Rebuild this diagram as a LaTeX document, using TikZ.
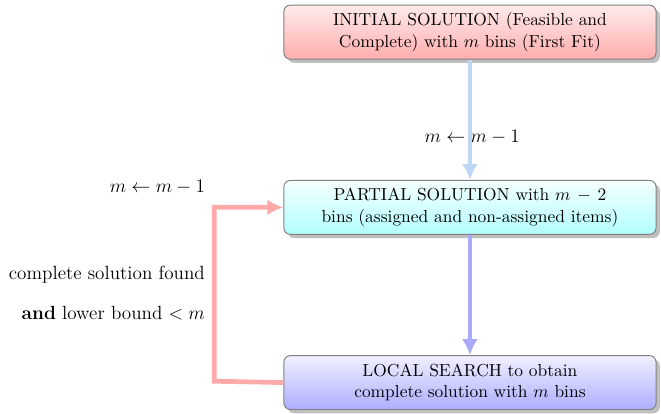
\documentclass[tikz,border=0pt,11pt]{standalone}
\usepackage{amsfonts,amssymb,amsmath}
\usetikzlibrary{arrows.meta,shadows,positioning}

\definecolor{arrowsky}{RGB}{189,216,246}
\definecolor{arrowlav}{RGB}{170,170,250}
\definecolor{arrowrose}{RGB}{255,170,170}

\begin{document}
\begin{tikzpicture}[>={Latex[length=10pt,width=10pt]},node distance=3.87cm,
  stepbox/.style={rectangle,rounded corners=4pt,draw=black!50,semithick,
    minimum width=8.22cm,minimum height=1.19cm,align=center,drop shadow},
  note/.style={font=\large},
  flow/.style={->,line width=3pt}]
  \useasboundingbox (0,0) rectangle (14.6,-9.14);
  \node[stepbox,top color=red!8,bottom color=red!32] (init) at (10.38,-0.71)
    {INITIAL SOLUTION (Feasible and\\ Complete) with $m$ bins (First Fit)};
  \node[stepbox,top color=cyan!4,bottom color=cyan!30] (partial) [below of=init]
    {PARTIAL SOLUTION with $m\,-\,2$\\ bins (assigned and non-assigned items)};
  \node[stepbox,top color=blue!6,bottom color=blue!32] (local) [below of=partial]
    {LOCAL SEARCH to obtain\\ complete solution with $m$ bins};
  \node[note] (dec) at (10.43,-3.03) {$m \leftarrow m-1$};
  \coordinate (turn) at (4.73,-8.42);
  \node[note,anchor=east] (decloop) at (4.66,-4.13) {$m \leftarrow m-1$};
  \node[note,anchor=east,align=right] (cond) at (4.66,-6.48)
    {complete solution found\\[11pt] \textbf{and} lower bound $<m$};
  \draw[flow,arrowsky] (init) -- (partial);
  \draw[flow,arrowlav] (partial) -- (local);
  \draw[flow,arrowrose] (local.west) -- (turn) |- (partial.west);
\end{tikzpicture}
\end{document}
